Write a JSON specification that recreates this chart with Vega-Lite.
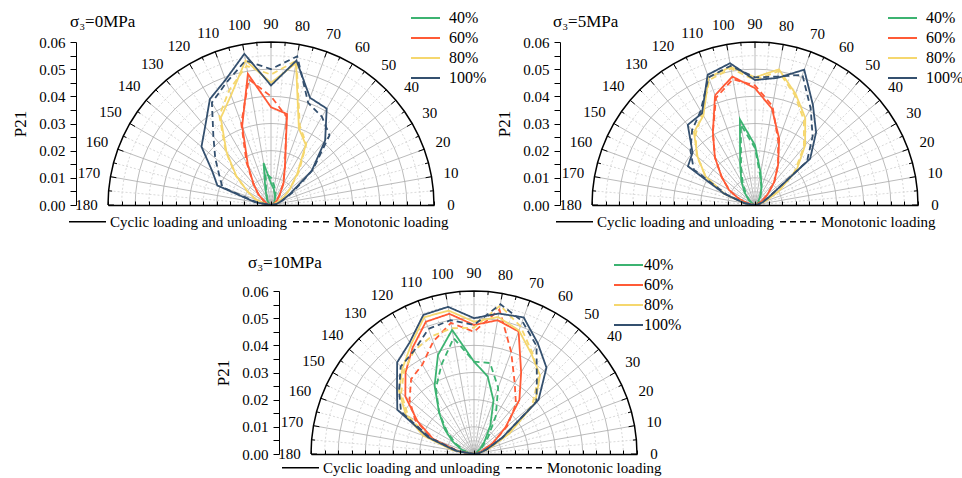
{
"$schema":"https://vega.github.io/schema/vega-lite/v6.json",
"padding":{"left":11,"top":8,"right":0,"bottom":0},
"background":"white",
"config":{"view":{"stroke":null},"font":"Liberation Serif"},
"datasets":{
"gmin":[{"r":0.005,"ang":[0,5,10,15,20,25,30,35,40,45,50,55,60,65,70,75,80,85,90,95,100,105,110,115,120,125,130,135,140,145,150,155,160,165,170,175,180]},{"r":0.015,"ang":[0,5,10,15,20,25,30,35,40,45,50,55,60,65,70,75,80,85,90,95,100,105,110,115,120,125,130,135,140,145,150,155,160,165,170,175,180]},{"r":0.025,"ang":[0,5,10,15,20,25,30,35,40,45,50,55,60,65,70,75,80,85,90,95,100,105,110,115,120,125,130,135,140,145,150,155,160,165,170,175,180]},{"r":0.035,"ang":[0,5,10,15,20,25,30,35,40,45,50,55,60,65,70,75,80,85,90,95,100,105,110,115,120,125,130,135,140,145,150,155,160,165,170,175,180]},{"r":0.045,"ang":[0,5,10,15,20,25,30,35,40,45,50,55,60,65,70,75,80,85,90,95,100,105,110,115,120,125,130,135,140,145,150,155,160,165,170,175,180]},{"r":0.055,"ang":[0,5,10,15,20,25,30,35,40,45,50,55,60,65,70,75,80,85,90,95,100,105,110,115,120,125,130,135,140,145,150,155,160,165,170,175,180]}],
"gmaj":[{"r":0.01,"ang":[0,5,10,15,20,25,30,35,40,45,50,55,60,65,70,75,80,85,90,95,100,105,110,115,120,125,130,135,140,145,150,155,160,165,170,175,180]},{"r":0.02,"ang":[0,5,10,15,20,25,30,35,40,45,50,55,60,65,70,75,80,85,90,95,100,105,110,115,120,125,130,135,140,145,150,155,160,165,170,175,180]},{"r":0.03,"ang":[0,5,10,15,20,25,30,35,40,45,50,55,60,65,70,75,80,85,90,95,100,105,110,115,120,125,130,135,140,145,150,155,160,165,170,175,180]},{"r":0.04,"ang":[0,5,10,15,20,25,30,35,40,45,50,55,60,65,70,75,80,85,90,95,100,105,110,115,120,125,130,135,140,145,150,155,160,165,170,175,180]},{"r":0.05,"ang":[0,5,10,15,20,25,30,35,40,45,50,55,60,65,70,75,80,85,90,95,100,105,110,115,120,125,130,135,140,145,150,155,160,165,170,175,180]}],
"gout":[{"r":0.06,"ang":[0,5,10,15,20,25,30,35,40,45,50,55,60,65,70,75,80,85,90,95,100,105,110,115,120,125,130,135,140,145,150,155,160,165,170,175,180]}],
"amin":[{"a":5},{"a":15},{"a":25},{"a":35},{"a":45},{"a":55},{"a":65},{"a":75},{"a":85},{"a":95},{"a":105},{"a":115},{"a":125},{"a":135},{"a":145},{"a":155},{"a":165},{"a":175}],
"amaj":[{"a":10},{"a":20},{"a":30},{"a":40},{"a":50},{"a":60},{"a":70},{"a":80},{"a":90},{"a":100},{"a":110},{"a":120},{"a":130},{"a":140},{"a":150},{"a":160},{"a":170}],
"alab":[{"a":0},{"a":10},{"a":20},{"a":30},{"a":40},{"a":50},{"a":60},{"a":70},{"a":80},{"a":90},{"a":100},{"a":110},{"a":120},{"a":130},{"a":140},{"a":150},{"a":160},{"a":170},{"a":180}],
"lines":[
{"p":"0","l":"40%","t":"C","a":0,"v":0},{"p":"0","l":"40%","t":"C","a":10,"v":0.0005},{"p":"0","l":"40%","t":"C","a":20,"v":0.001},{"p":"0","l":"40%","t":"C","a":30,"v":0.001},{"p":"0","l":"40%","t":"C","a":40,"v":0.002},{"p":"0","l":"40%","t":"C","a":50,"v":0.002},{"p":"0","l":"40%","t":"C","a":60,"v":0.003},{"p":"0","l":"40%","t":"C","a":70,"v":0.004},{"p":"0","l":"40%","t":"C","a":80,"v":0.006},{"p":"0","l":"40%","t":"C","a":90,"v":0.008},{"p":"0","l":"40%","t":"C","a":100,"v":0.0157},{"p":"0","l":"40%","t":"C","a":110,"v":0.006},{"p":"0","l":"40%","t":"C","a":120,"v":0.003},{"p":"0","l":"40%","t":"C","a":130,"v":0.002},{"p":"0","l":"40%","t":"C","a":140,"v":0.001},{"p":"0","l":"40%","t":"C","a":150,"v":0.001},{"p":"0","l":"40%","t":"C","a":160,"v":0.0005},{"p":"0","l":"40%","t":"C","a":170,"v":0.0005},{"p":"0","l":"40%","t":"C","a":180,"v":0},
{"p":"0","l":"40%","t":"M","a":0,"v":0},{"p":"0","l":"40%","t":"M","a":10,"v":0.0005},{"p":"0","l":"40%","t":"M","a":20,"v":0.001},{"p":"0","l":"40%","t":"M","a":30,"v":0.001},{"p":"0","l":"40%","t":"M","a":40,"v":0.002},{"p":"0","l":"40%","t":"M","a":50,"v":0.002},{"p":"0","l":"40%","t":"M","a":60,"v":0.003},{"p":"0","l":"40%","t":"M","a":70,"v":0.005},{"p":"0","l":"40%","t":"M","a":80,"v":0.007},{"p":"0","l":"40%","t":"M","a":90,"v":0.010},{"p":"0","l":"40%","t":"M","a":100,"v":0.012},{"p":"0","l":"40%","t":"M","a":110,"v":0.005},{"p":"0","l":"40%","t":"M","a":120,"v":0.003},{"p":"0","l":"40%","t":"M","a":130,"v":0.002},{"p":"0","l":"40%","t":"M","a":140,"v":0.001},{"p":"0","l":"40%","t":"M","a":150,"v":0.001},{"p":"0","l":"40%","t":"M","a":160,"v":0.0005},{"p":"0","l":"40%","t":"M","a":170,"v":0.0005},{"p":"0","l":"40%","t":"M","a":180,"v":0},
{"p":"0","l":"60%","t":"C","a":0,"v":0},{"p":"0","l":"60%","t":"C","a":10,"v":0.0005},{"p":"0","l":"60%","t":"C","a":20,"v":0.001},{"p":"0","l":"60%","t":"C","a":30,"v":0.002},{"p":"0","l":"60%","t":"C","a":40,"v":0.003},{"p":"0","l":"60%","t":"C","a":50,"v":0.005},{"p":"0","l":"60%","t":"C","a":60,"v":0.0092},{"p":"0","l":"60%","t":"C","a":70,"v":0.015},{"p":"0","l":"60%","t":"C","a":80,"v":0.034},{"p":"0","l":"60%","t":"C","a":90,"v":0.036},{"p":"0","l":"60%","t":"C","a":100,"v":0.049},{"p":"0","l":"60%","t":"C","a":110,"v":0.031},{"p":"0","l":"60%","t":"C","a":120,"v":0.017},{"p":"0","l":"60%","t":"C","a":130,"v":0.010},{"p":"0","l":"60%","t":"C","a":140,"v":0.006},{"p":"0","l":"60%","t":"C","a":150,"v":0.003},{"p":"0","l":"60%","t":"C","a":160,"v":0.002},{"p":"0","l":"60%","t":"C","a":170,"v":0.001},{"p":"0","l":"60%","t":"C","a":180,"v":0},
{"p":"0","l":"60%","t":"M","a":0,"v":0},{"p":"0","l":"60%","t":"M","a":10,"v":0.0005},{"p":"0","l":"60%","t":"M","a":20,"v":0.001},{"p":"0","l":"60%","t":"M","a":30,"v":0.002},{"p":"0","l":"60%","t":"M","a":40,"v":0.003},{"p":"0","l":"60%","t":"M","a":50,"v":0.005},{"p":"0","l":"60%","t":"M","a":60,"v":0.009},{"p":"0","l":"60%","t":"M","a":70,"v":0.015},{"p":"0","l":"60%","t":"M","a":80,"v":0.033},{"p":"0","l":"60%","t":"M","a":90,"v":0.040},{"p":"0","l":"60%","t":"M","a":100,"v":0.047},{"p":"0","l":"60%","t":"M","a":110,"v":0.032},{"p":"0","l":"60%","t":"M","a":120,"v":0.018},{"p":"0","l":"60%","t":"M","a":130,"v":0.010},{"p":"0","l":"60%","t":"M","a":140,"v":0.006},{"p":"0","l":"60%","t":"M","a":150,"v":0.003},{"p":"0","l":"60%","t":"M","a":160,"v":0.002},{"p":"0","l":"60%","t":"M","a":170,"v":0.001},{"p":"0","l":"60%","t":"M","a":180,"v":0},
{"p":"0","l":"80%","t":"C","a":0,"v":0},{"p":"0","l":"80%","t":"C","a":10,"v":0.001},{"p":"0","l":"80%","t":"C","a":20,"v":0.002},{"p":"0","l":"80%","t":"C","a":30,"v":0.005},{"p":"0","l":"80%","t":"C","a":40,"v":0.009},{"p":"0","l":"80%","t":"C","a":50,"v":0.015},{"p":"0","l":"80%","t":"C","a":60,"v":0.0256},{"p":"0","l":"80%","t":"C","a":70,"v":0.030},{"p":"0","l":"80%","t":"C","a":80,"v":0.053},{"p":"0","l":"80%","t":"C","a":90,"v":0.045},{"p":"0","l":"80%","t":"C","a":100,"v":0.054},{"p":"0","l":"80%","t":"C","a":110,"v":0.043},{"p":"0","l":"80%","t":"C","a":120,"v":0.037},{"p":"0","l":"80%","t":"C","a":130,"v":0.0255},{"p":"0","l":"80%","t":"C","a":140,"v":0.0167},{"p":"0","l":"80%","t":"C","a":150,"v":0.010},{"p":"0","l":"80%","t":"C","a":160,"v":0.006},{"p":"0","l":"80%","t":"C","a":170,"v":0.002},{"p":"0","l":"80%","t":"C","a":180,"v":0},
{"p":"0","l":"80%","t":"M","a":0,"v":0},{"p":"0","l":"80%","t":"M","a":10,"v":0.001},{"p":"0","l":"80%","t":"M","a":20,"v":0.002},{"p":"0","l":"80%","t":"M","a":30,"v":0.005},{"p":"0","l":"80%","t":"M","a":40,"v":0.009},{"p":"0","l":"80%","t":"M","a":50,"v":0.016},{"p":"0","l":"80%","t":"M","a":60,"v":0.026},{"p":"0","l":"80%","t":"M","a":70,"v":0.031},{"p":"0","l":"80%","t":"M","a":80,"v":0.054},{"p":"0","l":"80%","t":"M","a":90,"v":0.048},{"p":"0","l":"80%","t":"M","a":100,"v":0.052},{"p":"0","l":"80%","t":"M","a":110,"v":0.045},{"p":"0","l":"80%","t":"M","a":120,"v":0.038},{"p":"0","l":"80%","t":"M","a":130,"v":0.026},{"p":"0","l":"80%","t":"M","a":140,"v":0.017},{"p":"0","l":"80%","t":"M","a":150,"v":0.010},{"p":"0","l":"80%","t":"M","a":160,"v":0.006},{"p":"0","l":"80%","t":"M","a":170,"v":0.002},{"p":"0","l":"80%","t":"M","a":180,"v":0},
{"p":"0","l":"100%","t":"C","a":0,"v":0},{"p":"0","l":"100%","t":"C","a":10,"v":0.002},{"p":"0","l":"100%","t":"C","a":20,"v":0.004},{"p":"0","l":"100%","t":"C","a":30,"v":0.008},{"p":"0","l":"100%","t":"C","a":40,"v":0.0196},{"p":"0","l":"100%","t":"C","a":50,"v":0.031},{"p":"0","l":"100%","t":"C","a":60,"v":0.041},{"p":"0","l":"100%","t":"C","a":70,"v":0.042},{"p":"0","l":"100%","t":"C","a":80,"v":0.054},{"p":"0","l":"100%","t":"C","a":90,"v":0.044},{"p":"0","l":"100%","t":"C","a":100,"v":0.0565},{"p":"0","l":"100%","t":"C","a":110,"v":0.049},{"p":"0","l":"100%","t":"C","a":120,"v":0.045},{"p":"0","l":"100%","t":"C","a":130,"v":0.0377},{"p":"0","l":"100%","t":"C","a":140,"v":0.0334},{"p":"0","l":"100%","t":"C","a":150,"v":0.025},{"p":"0","l":"100%","t":"C","a":160,"v":0.021},{"p":"0","l":"100%","t":"C","a":170,"v":0.006},{"p":"0","l":"100%","t":"C","a":180,"v":0},
{"p":"0","l":"100%","t":"M","a":0,"v":0},{"p":"0","l":"100%","t":"M","a":10,"v":0.002},{"p":"0","l":"100%","t":"M","a":20,"v":0.004},{"p":"0","l":"100%","t":"M","a":30,"v":0.009},{"p":"0","l":"100%","t":"M","a":40,"v":0.020},{"p":"0","l":"100%","t":"M","a":50,"v":0.0335},{"p":"0","l":"100%","t":"M","a":60,"v":0.0375},{"p":"0","l":"100%","t":"M","a":70,"v":0.040},{"p":"0","l":"100%","t":"M","a":80,"v":0.0556},{"p":"0","l":"100%","t":"M","a":90,"v":0.050},{"p":"0","l":"100%","t":"M","a":100,"v":0.054},{"p":"0","l":"100%","t":"M","a":110,"v":0.048},{"p":"0","l":"100%","t":"M","a":120,"v":0.0435},{"p":"0","l":"100%","t":"M","a":130,"v":0.033},{"p":"0","l":"100%","t":"M","a":140,"v":0.0268},{"p":"0","l":"100%","t":"M","a":150,"v":0.022},{"p":"0","l":"100%","t":"M","a":160,"v":0.019},{"p":"0","l":"100%","t":"M","a":170,"v":0.005},{"p":"0","l":"100%","t":"M","a":180,"v":0},
{"p":"5","l":"40%","t":"C","a":0,"v":0},{"p":"5","l":"40%","t":"C","a":10,"v":0.0005},{"p":"5","l":"40%","t":"C","a":20,"v":0.001},{"p":"5","l":"40%","t":"C","a":30,"v":0.001},{"p":"5","l":"40%","t":"C","a":40,"v":0.002},{"p":"5","l":"40%","t":"C","a":50,"v":0.002},{"p":"5","l":"40%","t":"C","a":60,"v":0.004},{"p":"5","l":"40%","t":"C","a":70,"v":0.007},{"p":"5","l":"40%","t":"C","a":80,"v":0.012},{"p":"5","l":"40%","t":"C","a":90,"v":0.022},{"p":"5","l":"40%","t":"C","a":100,"v":0.032},{"p":"5","l":"40%","t":"C","a":110,"v":0.016},{"p":"5","l":"40%","t":"C","a":120,"v":0.010},{"p":"5","l":"40%","t":"C","a":130,"v":0.006},{"p":"5","l":"40%","t":"C","a":140,"v":0.003},{"p":"5","l":"40%","t":"C","a":150,"v":0.001},{"p":"5","l":"40%","t":"C","a":160,"v":0.001},{"p":"5","l":"40%","t":"C","a":170,"v":0.0005},{"p":"5","l":"40%","t":"C","a":180,"v":0},
{"p":"5","l":"40%","t":"M","a":0,"v":0},{"p":"5","l":"40%","t":"M","a":10,"v":0.0005},{"p":"5","l":"40%","t":"M","a":20,"v":0.001},{"p":"5","l":"40%","t":"M","a":30,"v":0.001},{"p":"5","l":"40%","t":"M","a":40,"v":0.002},{"p":"5","l":"40%","t":"M","a":50,"v":0.003},{"p":"5","l":"40%","t":"M","a":60,"v":0.004},{"p":"5","l":"40%","t":"M","a":70,"v":0.007},{"p":"5","l":"40%","t":"M","a":80,"v":0.011},{"p":"5","l":"40%","t":"M","a":90,"v":0.021},{"p":"5","l":"40%","t":"M","a":100,"v":0.030},{"p":"5","l":"40%","t":"M","a":110,"v":0.015},{"p":"5","l":"40%","t":"M","a":120,"v":0.009},{"p":"5","l":"40%","t":"M","a":130,"v":0.005},{"p":"5","l":"40%","t":"M","a":140,"v":0.003},{"p":"5","l":"40%","t":"M","a":150,"v":0.001},{"p":"5","l":"40%","t":"M","a":160,"v":0.001},{"p":"5","l":"40%","t":"M","a":170,"v":0.0005},{"p":"5","l":"40%","t":"M","a":180,"v":0},
{"p":"5","l":"60%","t":"C","a":0,"v":0},{"p":"5","l":"60%","t":"C","a":10,"v":0.0005},{"p":"5","l":"60%","t":"C","a":20,"v":0.001},{"p":"5","l":"60%","t":"C","a":30,"v":0.003},{"p":"5","l":"60%","t":"C","a":40,"v":0.006},{"p":"5","l":"60%","t":"C","a":50,"v":0.011},{"p":"5","l":"60%","t":"C","a":60,"v":0.017},{"p":"5","l":"60%","t":"C","a":70,"v":0.026},{"p":"5","l":"60%","t":"C","a":80,"v":0.036},{"p":"5","l":"60%","t":"C","a":90,"v":0.043},{"p":"5","l":"60%","t":"C","a":100,"v":0.048},{"p":"5","l":"60%","t":"C","a":110,"v":0.043},{"p":"5","l":"60%","t":"C","a":120,"v":0.031},{"p":"5","l":"60%","t":"C","a":130,"v":0.023},{"p":"5","l":"60%","t":"C","a":140,"v":0.016},{"p":"5","l":"60%","t":"C","a":150,"v":0.011},{"p":"5","l":"60%","t":"C","a":160,"v":0.006},{"p":"5","l":"60%","t":"C","a":170,"v":0.002},{"p":"5","l":"60%","t":"C","a":180,"v":0},
{"p":"5","l":"60%","t":"M","a":0,"v":0},{"p":"5","l":"60%","t":"M","a":10,"v":0.0005},{"p":"5","l":"60%","t":"M","a":20,"v":0.001},{"p":"5","l":"60%","t":"M","a":30,"v":0.003},{"p":"5","l":"60%","t":"M","a":40,"v":0.006},{"p":"5","l":"60%","t":"M","a":50,"v":0.011},{"p":"5","l":"60%","t":"M","a":60,"v":0.017},{"p":"5","l":"60%","t":"M","a":70,"v":0.025},{"p":"5","l":"60%","t":"M","a":80,"v":0.037},{"p":"5","l":"60%","t":"M","a":90,"v":0.044},{"p":"5","l":"60%","t":"M","a":100,"v":0.047},{"p":"5","l":"60%","t":"M","a":110,"v":0.042},{"p":"5","l":"60%","t":"M","a":120,"v":0.031},{"p":"5","l":"60%","t":"M","a":130,"v":0.023},{"p":"5","l":"60%","t":"M","a":140,"v":0.016},{"p":"5","l":"60%","t":"M","a":150,"v":0.011},{"p":"5","l":"60%","t":"M","a":160,"v":0.006},{"p":"5","l":"60%","t":"M","a":170,"v":0.002},{"p":"5","l":"60%","t":"M","a":180,"v":0},
{"p":"5","l":"80%","t":"C","a":0,"v":0},{"p":"5","l":"80%","t":"C","a":10,"v":0.001},{"p":"5","l":"80%","t":"C","a":20,"v":0.004},{"p":"5","l":"80%","t":"C","a":30,"v":0.010},{"p":"5","l":"80%","t":"C","a":40,"v":0.020},{"p":"5","l":"80%","t":"C","a":50,"v":0.0287},{"p":"5","l":"80%","t":"C","a":60,"v":0.037},{"p":"5","l":"80%","t":"C","a":70,"v":0.0436},{"p":"5","l":"80%","t":"C","a":80,"v":0.0507},{"p":"5","l":"80%","t":"C","a":90,"v":0.047},{"p":"5","l":"80%","t":"C","a":100,"v":0.0516},{"p":"5","l":"80%","t":"C","a":110,"v":0.050},{"p":"5","l":"80%","t":"C","a":120,"v":0.038},{"p":"5","l":"80%","t":"C","a":130,"v":0.035},{"p":"5","l":"80%","t":"C","a":140,"v":0.0276},{"p":"5","l":"80%","t":"C","a":150,"v":0.021},{"p":"5","l":"80%","t":"C","a":160,"v":0.012},{"p":"5","l":"80%","t":"C","a":170,"v":0.004},{"p":"5","l":"80%","t":"C","a":180,"v":0},
{"p":"5","l":"80%","t":"M","a":0,"v":0},{"p":"5","l":"80%","t":"M","a":10,"v":0.001},{"p":"5","l":"80%","t":"M","a":20,"v":0.004},{"p":"5","l":"80%","t":"M","a":30,"v":0.010},{"p":"5","l":"80%","t":"M","a":40,"v":0.019},{"p":"5","l":"80%","t":"M","a":50,"v":0.028},{"p":"5","l":"80%","t":"M","a":60,"v":0.036},{"p":"5","l":"80%","t":"M","a":70,"v":0.043},{"p":"5","l":"80%","t":"M","a":80,"v":0.050},{"p":"5","l":"80%","t":"M","a":90,"v":0.046},{"p":"5","l":"80%","t":"M","a":100,"v":0.051},{"p":"5","l":"80%","t":"M","a":110,"v":0.049},{"p":"5","l":"80%","t":"M","a":120,"v":0.039},{"p":"5","l":"80%","t":"M","a":130,"v":0.034},{"p":"5","l":"80%","t":"M","a":140,"v":0.028},{"p":"5","l":"80%","t":"M","a":150,"v":0.021},{"p":"5","l":"80%","t":"M","a":160,"v":0.012},{"p":"5","l":"80%","t":"M","a":170,"v":0.004},{"p":"5","l":"80%","t":"M","a":180,"v":0},
{"p":"5","l":"100%","t":"C","a":0,"v":0},{"p":"5","l":"100%","t":"C","a":10,"v":0.001},{"p":"5","l":"100%","t":"C","a":20,"v":0.003},{"p":"5","l":"100%","t":"C","a":30,"v":0.006},{"p":"5","l":"100%","t":"C","a":40,"v":0.0265},{"p":"5","l":"100%","t":"C","a":50,"v":0.035},{"p":"5","l":"100%","t":"C","a":60,"v":0.0426},{"p":"5","l":"100%","t":"C","a":70,"v":0.053},{"p":"5","l":"100%","t":"C","a":80,"v":0.0475},{"p":"5","l":"100%","t":"C","a":90,"v":0.046},{"p":"5","l":"100%","t":"C","a":100,"v":0.053},{"p":"5","l":"100%","t":"C","a":110,"v":0.051},{"p":"5","l":"100%","t":"C","a":120,"v":0.039},{"p":"5","l":"100%","t":"C","a":130,"v":0.0385},{"p":"5","l":"100%","t":"C","a":140,"v":0.030},{"p":"5","l":"100%","t":"C","a":150,"v":0.0285},{"p":"5","l":"100%","t":"C","a":160,"v":0.012},{"p":"5","l":"100%","t":"C","a":170,"v":0.004},{"p":"5","l":"100%","t":"C","a":180,"v":0},
{"p":"5","l":"100%","t":"M","a":0,"v":0},{"p":"5","l":"100%","t":"M","a":10,"v":0.001},{"p":"5","l":"100%","t":"M","a":20,"v":0.003},{"p":"5","l":"100%","t":"M","a":30,"v":0.006},{"p":"5","l":"100%","t":"M","a":40,"v":0.025},{"p":"5","l":"100%","t":"M","a":50,"v":0.033},{"p":"5","l":"100%","t":"M","a":60,"v":0.041},{"p":"5","l":"100%","t":"M","a":70,"v":0.051},{"p":"5","l":"100%","t":"M","a":80,"v":0.048},{"p":"5","l":"100%","t":"M","a":90,"v":0.047},{"p":"5","l":"100%","t":"M","a":100,"v":0.052},{"p":"5","l":"100%","t":"M","a":110,"v":0.050},{"p":"5","l":"100%","t":"M","a":120,"v":0.040},{"p":"5","l":"100%","t":"M","a":130,"v":0.036},{"p":"5","l":"100%","t":"M","a":140,"v":0.031},{"p":"5","l":"100%","t":"M","a":150,"v":0.026},{"p":"5","l":"100%","t":"M","a":160,"v":0.011},{"p":"5","l":"100%","t":"M","a":170,"v":0.004},{"p":"5","l":"100%","t":"M","a":180,"v":0},
{"p":"10","l":"40%","t":"C","a":0,"v":0},{"p":"10","l":"40%","t":"C","a":10,"v":0.0005},{"p":"10","l":"40%","t":"C","a":20,"v":0.001},{"p":"10","l":"40%","t":"C","a":30,"v":0.001},{"p":"10","l":"40%","t":"C","a":40,"v":0.003},{"p":"10","l":"40%","t":"C","a":50,"v":0.006},{"p":"10","l":"40%","t":"C","a":60,"v":0.012},{"p":"10","l":"40%","t":"C","a":70,"v":0.021},{"p":"10","l":"40%","t":"C","a":80,"v":0.029},{"p":"10","l":"40%","t":"C","a":90,"v":0.034},{"p":"10","l":"40%","t":"C","a":100,"v":0.0464},{"p":"10","l":"40%","t":"C","a":110,"v":0.0388},{"p":"10","l":"40%","t":"C","a":120,"v":0.029},{"p":"10","l":"40%","t":"C","a":130,"v":0.020},{"p":"10","l":"40%","t":"C","a":140,"v":0.014},{"p":"10","l":"40%","t":"C","a":150,"v":0.009},{"p":"10","l":"40%","t":"C","a":160,"v":0.005},{"p":"10","l":"40%","t":"C","a":170,"v":0.002},{"p":"10","l":"40%","t":"C","a":180,"v":0},
{"p":"10","l":"40%","t":"M","a":0,"v":0},{"p":"10","l":"40%","t":"M","a":10,"v":0.0005},{"p":"10","l":"40%","t":"M","a":20,"v":0.001},{"p":"10","l":"40%","t":"M","a":30,"v":0.002},{"p":"10","l":"40%","t":"M","a":40,"v":0.004},{"p":"10","l":"40%","t":"M","a":50,"v":0.008},{"p":"10","l":"40%","t":"M","a":60,"v":0.016},{"p":"10","l":"40%","t":"M","a":70,"v":0.026},{"p":"10","l":"40%","t":"M","a":80,"v":0.034},{"p":"10","l":"40%","t":"M","a":90,"v":0.034},{"p":"10","l":"40%","t":"M","a":100,"v":0.0433},{"p":"10","l":"40%","t":"M","a":110,"v":0.035},{"p":"10","l":"40%","t":"M","a":120,"v":0.028},{"p":"10","l":"40%","t":"M","a":130,"v":0.020},{"p":"10","l":"40%","t":"M","a":140,"v":0.013},{"p":"10","l":"40%","t":"M","a":150,"v":0.008},{"p":"10","l":"40%","t":"M","a":160,"v":0.004},{"p":"10","l":"40%","t":"M","a":170,"v":0.002},{"p":"10","l":"40%","t":"M","a":180,"v":0},
{"p":"10","l":"60%","t":"C","a":0,"v":0},{"p":"10","l":"60%","t":"C","a":10,"v":0.001},{"p":"10","l":"60%","t":"C","a":20,"v":0.003},{"p":"10","l":"60%","t":"C","a":30,"v":0.008},{"p":"10","l":"60%","t":"C","a":40,"v":0.015},{"p":"10","l":"60%","t":"C","a":50,"v":0.026},{"p":"10","l":"60%","t":"C","a":60,"v":0.0347},{"p":"10","l":"60%","t":"C","a":70,"v":0.048},{"p":"10","l":"60%","t":"C","a":80,"v":0.050},{"p":"10","l":"60%","t":"C","a":90,"v":0.0475},{"p":"10","l":"60%","t":"C","a":100,"v":0.0524},{"p":"10","l":"60%","t":"C","a":110,"v":0.0518},{"p":"10","l":"60%","t":"C","a":120,"v":0.0452},{"p":"10","l":"60%","t":"C","a":130,"v":0.0392},{"p":"10","l":"60%","t":"C","a":140,"v":0.033},{"p":"10","l":"60%","t":"C","a":150,"v":0.024},{"p":"10","l":"60%","t":"C","a":160,"v":0.016},{"p":"10","l":"60%","t":"C","a":170,"v":0.006},{"p":"10","l":"60%","t":"C","a":180,"v":0},
{"p":"10","l":"60%","t":"M","a":0,"v":0},{"p":"10","l":"60%","t":"M","a":10,"v":0.001},{"p":"10","l":"60%","t":"M","a":20,"v":0.003},{"p":"10","l":"60%","t":"M","a":30,"v":0.008},{"p":"10","l":"60%","t":"M","a":40,"v":0.016},{"p":"10","l":"60%","t":"M","a":50,"v":0.024},{"p":"10","l":"60%","t":"M","a":60,"v":0.030},{"p":"10","l":"60%","t":"M","a":70,"v":0.040},{"p":"10","l":"60%","t":"M","a":80,"v":0.054},{"p":"10","l":"60%","t":"M","a":90,"v":0.045},{"p":"10","l":"60%","t":"M","a":100,"v":0.049},{"p":"10","l":"60%","t":"M","a":110,"v":0.044},{"p":"10","l":"60%","t":"M","a":120,"v":0.038},{"p":"10","l":"60%","t":"M","a":130,"v":0.036},{"p":"10","l":"60%","t":"M","a":140,"v":0.031},{"p":"10","l":"60%","t":"M","a":150,"v":0.025},{"p":"10","l":"60%","t":"M","a":160,"v":0.016},{"p":"10","l":"60%","t":"M","a":170,"v":0.006},{"p":"10","l":"60%","t":"M","a":180,"v":0},
{"p":"10","l":"80%","t":"C","a":0,"v":0},{"p":"10","l":"80%","t":"C","a":10,"v":0.002},{"p":"10","l":"80%","t":"C","a":20,"v":0.006},{"p":"10","l":"80%","t":"C","a":30,"v":0.015},{"p":"10","l":"80%","t":"C","a":40,"v":0.0294},{"p":"10","l":"80%","t":"C","a":50,"v":0.0378},{"p":"10","l":"80%","t":"C","a":60,"v":0.0424},{"p":"10","l":"80%","t":"C","a":70,"v":0.0484},{"p":"10","l":"80%","t":"C","a":80,"v":0.0512},{"p":"10","l":"80%","t":"C","a":90,"v":0.0487},{"p":"10","l":"80%","t":"C","a":100,"v":0.0536},{"p":"10","l":"80%","t":"C","a":110,"v":0.0536},{"p":"10","l":"80%","t":"C","a":120,"v":0.0464},{"p":"10","l":"80%","t":"C","a":130,"v":0.041},{"p":"10","l":"80%","t":"C","a":140,"v":0.036},{"p":"10","l":"80%","t":"C","a":150,"v":0.029},{"p":"10","l":"80%","t":"C","a":160,"v":0.020},{"p":"10","l":"80%","t":"C","a":170,"v":0.008},{"p":"10","l":"80%","t":"C","a":180,"v":0},
{"p":"10","l":"80%","t":"M","a":0,"v":0},{"p":"10","l":"80%","t":"M","a":10,"v":0.002},{"p":"10","l":"80%","t":"M","a":20,"v":0.006},{"p":"10","l":"80%","t":"M","a":30,"v":0.014},{"p":"10","l":"80%","t":"M","a":40,"v":0.028},{"p":"10","l":"80%","t":"M","a":50,"v":0.037},{"p":"10","l":"80%","t":"M","a":60,"v":0.043},{"p":"10","l":"80%","t":"M","a":70,"v":0.050},{"p":"10","l":"80%","t":"M","a":80,"v":0.0555},{"p":"10","l":"80%","t":"M","a":90,"v":0.0465},{"p":"10","l":"80%","t":"M","a":100,"v":0.047},{"p":"10","l":"80%","t":"M","a":110,"v":0.046},{"p":"10","l":"80%","t":"M","a":120,"v":0.044},{"p":"10","l":"80%","t":"M","a":130,"v":0.040},{"p":"10","l":"80%","t":"M","a":140,"v":0.035},{"p":"10","l":"80%","t":"M","a":150,"v":0.028},{"p":"10","l":"80%","t":"M","a":160,"v":0.018},{"p":"10","l":"80%","t":"M","a":170,"v":0.007},{"p":"10","l":"80%","t":"M","a":180,"v":0},
{"p":"10","l":"100%","t":"C","a":0,"v":0},{"p":"10","l":"100%","t":"C","a":10,"v":0.002},{"p":"10","l":"100%","t":"C","a":20,"v":0.005},{"p":"10","l":"100%","t":"C","a":30,"v":0.012},{"p":"10","l":"100%","t":"C","a":40,"v":0.031},{"p":"10","l":"100%","t":"C","a":50,"v":0.0415},{"p":"10","l":"100%","t":"C","a":60,"v":0.047},{"p":"10","l":"100%","t":"C","a":70,"v":0.0535},{"p":"10","l":"100%","t":"C","a":80,"v":0.0525},{"p":"10","l":"100%","t":"C","a":90,"v":0.050},{"p":"10","l":"100%","t":"C","a":100,"v":0.055},{"p":"10","l":"100%","t":"C","a":110,"v":0.0545},{"p":"10","l":"100%","t":"C","a":120,"v":0.0474},{"p":"10","l":"100%","t":"C","a":130,"v":0.044},{"p":"10","l":"100%","t":"C","a":140,"v":0.037},{"p":"10","l":"100%","t":"C","a":150,"v":0.0326},{"p":"10","l":"100%","t":"C","a":160,"v":0.018},{"p":"10","l":"100%","t":"C","a":170,"v":0.007},{"p":"10","l":"100%","t":"C","a":180,"v":0},
{"p":"10","l":"100%","t":"M","a":0,"v":0},{"p":"10","l":"100%","t":"M","a":10,"v":0.002},{"p":"10","l":"100%","t":"M","a":20,"v":0.005},{"p":"10","l":"100%","t":"M","a":30,"v":0.012},{"p":"10","l":"100%","t":"M","a":40,"v":0.030},{"p":"10","l":"100%","t":"M","a":50,"v":0.036},{"p":"10","l":"100%","t":"M","a":60,"v":0.046},{"p":"10","l":"100%","t":"M","a":70,"v":0.052},{"p":"10","l":"100%","t":"M","a":80,"v":0.056},{"p":"10","l":"100%","t":"M","a":90,"v":0.0475},{"p":"10","l":"100%","t":"M","a":100,"v":0.050},{"p":"10","l":"100%","t":"M","a":110,"v":0.049},{"p":"10","l":"100%","t":"M","a":120,"v":0.044},{"p":"10","l":"100%","t":"M","a":130,"v":0.042},{"p":"10","l":"100%","t":"M","a":140,"v":0.036},{"p":"10","l":"100%","t":"M","a":150,"v":0.031},{"p":"10","l":"100%","t":"M","a":160,"v":0.017},{"p":"10","l":"100%","t":"M","a":170,"v":0.006},{"p":"10","l":"100%","t":"M","a":180,"v":0}
]},
"spacing":484,
"bounds":"flush",
"resolve":{"scale":{"x":"independent","y":"independent","color":"independent","strokeDash":"independent"},"legend":{"color":"independent","strokeDash":"independent"}},
"hconcat":[
{"vconcat":[
{"width":326,"height":163,
"title":{"text":"σ₃=0MPa","anchor":"start","frame":"group","dx":-38,"offset":-23,"font":"Liberation Serif","fontSize":17,"fontWeight":"normal","color":"black"},
"encoding":{
"x":{"field":"x","type":"quantitative","scale":{"domain":[-0.06,0.06],"nice":false,"zero":false},"axis":{"orient":"top","offset":-163,"values":[-0.06,-0.055,-0.05,-0.045,-0.04,-0.035,-0.03,-0.025,-0.02,-0.015,-0.01,-0.005,0,0.005,0.01,0.015,0.02,0.025,0.03,0.035,0.04,0.045,0.05,0.055,0.06],"labels":false,"title":null,"grid":false,"domainColor":"black","domainWidth":1.5,"tickColor":"black","tickSize":4,"zindex":1}},
"y":{"field":"y","type":"quantitative","scale":{"domain":[0,0.06],"nice":false},"axis":{"orient":"left","offset":32,"values":[0,0.005,0.01,0.015,0.02,0.025,0.03,0.035,0.04,0.045,0.05,0.055,0.06],"labelExpr":"round(datum.value*1000)%10==0 ? format(datum.value,'.2f') : ''","tickSize":6,"grid":false,"title":"P21","titleFont":"Liberation Serif","titleFontSize":17,"titleFontWeight":"normal","titleColor":"black","titlePadding":9,"labelFont":"Liberation Serif","labelFontSize":15,"labelColor":"black","labelPadding":5,"domainColor":"black","tickColor":"black","labelOverlap":false}}},
"layer":[
{"data":{"name":"gmin"},"transform":[{"flatten":["ang"]},{"calculate":"datum.r*cos(datum.ang*PI/180)","as":"x"},{"calculate":"datum.r*sin(datum.ang*PI/180)","as":"y"}],"mark":{"type":"line","stroke":"#cfcfcf","strokeWidth":0.8,"strokeDash":[2,2]},"encoding":{"detail":{"field":"r","type":"nominal"},"order":{"field":"ang","type":"quantitative"}}},
{"data":{"name":"gmaj"},"transform":[{"flatten":["ang"]},{"calculate":"datum.r*cos(datum.ang*PI/180)","as":"x"},{"calculate":"datum.r*sin(datum.ang*PI/180)","as":"y"}],"mark":{"type":"line","stroke":"#a9a9a9","strokeWidth":0.8},"encoding":{"detail":{"field":"r","type":"nominal"},"order":{"field":"ang","type":"quantitative"}}},
{"data":{"name":"amin"},"transform":[{"calculate":"0","as":"x"},{"calculate":"0","as":"y"},{"calculate":"0.06*cos(datum.a*PI/180)","as":"x2"},{"calculate":"0.06*sin(datum.a*PI/180)","as":"y2"}],"mark":{"type":"rule","stroke":"#cfcfcf","strokeWidth":0.8,"strokeDash":[2,2]},"encoding":{"x2":{"field":"x2"},"y2":{"field":"y2"}}},
{"data":{"name":"amaj"},"transform":[{"calculate":"0","as":"x"},{"calculate":"0","as":"y"},{"calculate":"0.06*cos(datum.a*PI/180)","as":"x2"},{"calculate":"0.06*sin(datum.a*PI/180)","as":"y2"}],"mark":{"type":"rule","stroke":"#a9a9a9","strokeWidth":0.8},"encoding":{"x2":{"field":"x2"},"y2":{"field":"y2"}}},
{"data":{"name":"gout"},"transform":[{"flatten":["ang"]},{"calculate":"datum.r*cos(datum.ang*PI/180)","as":"x"},{"calculate":"datum.r*sin(datum.ang*PI/180)","as":"y"}],"mark":{"type":"line","stroke":"black","strokeWidth":1.5},"encoding":{"detail":{"field":"r","type":"nominal"},"order":{"field":"ang","type":"quantitative"}}},
{"data":{"name":"alab"},"transform":[{"calculate":"0.06*cos(datum.a*PI/180)","as":"x"},{"calculate":"0.06*sin(datum.a*PI/180)","as":"y"},{"calculate":"0.0578*cos(datum.a*PI/180)","as":"x2"},{"calculate":"0.0578*sin(datum.a*PI/180)","as":"y2"}],"mark":{"type":"rule","stroke":"black","strokeWidth":1},"encoding":{"x2":{"field":"x2"},"y2":{"field":"y2"}}},
{"data":{"name":"amin"},"transform":[{"calculate":"0.06*cos(datum.a*PI/180)","as":"x"},{"calculate":"0.06*sin(datum.a*PI/180)","as":"y"},{"calculate":"0.0587*cos(datum.a*PI/180)","as":"x2"},{"calculate":"0.0587*sin(datum.a*PI/180)","as":"y2"}],"mark":{"type":"rule","stroke":"black","strokeWidth":1},"encoding":{"x2":{"field":"x2"},"y2":{"field":"y2"}}},
{"data":{"name":"alab"},"transform":[{"calculate":"0.0655+0.0008*length(toString(datum.a))*abs(cos(datum.a*PI/180))+0.0012*abs(sin(datum.a*PI/180))","as":"lr"},{"calculate":"datum.lr*cos(datum.a*PI/180)","as":"x"},{"calculate":"datum.lr*sin(datum.a*PI/180)","as":"y"}],"mark":{"type":"text","font":"Liberation Serif","fontSize":15,"align":"center","baseline":"middle","color":"black"},"encoding":{"text":{"field":"a","type":"nominal"}}},
{"data":{"name":"lines"},"transform":[{"filter":"datum.p=='0'"},{"calculate":"datum.v*cos(datum.a*PI/180)","as":"x"},{"calculate":"datum.v*sin(datum.a*PI/180)","as":"y"}],"mark":{"type":"line","strokeWidth":1.8},
"encoding":{
"color":{"field":"l","type":"nominal","scale":{"domain":["40%","60%","80%","100%"],"range":["#3cb371","#ff5a36","#f5d76e","#34506f"]},"legend":{"orient":"none","legendX":303,"legendY":-34,"title":null,"padding":0,"clipHeight":20,"symbolType":"M-1.8,0H1.8","symbolSize":400,"symbolStrokeWidth":2,"labelFont":"Liberation Serif","labelFontSize":16,"labelColor":"black","labelOffset":16,"rowPadding":0}},
"strokeDash":{"field":"t","type":"nominal","scale":{"domain":["C","M"],"range":[[1,0],[6,4]]},"legend":{"orient":"none","legendX":-40,"legendY":160,"direction":"horizontal","title":null,"padding":0,"symbolType":"stroke","symbolSize":1369,"symbolStrokeWidth":1.5,"symbolStrokeColor":"black","labelExpr":"datum.value=='C' ? 'Cyclic loading and unloading' : 'Monotonic loading'","labelFont":"Liberation Serif","labelFontSize":15,"labelColor":"black","labelOffset":3,"labelLimit":400,"columnPadding":2}},
"order":{"field":"a","type":"quantitative"}}}
]},
{"width":529,"height":163,
"title":{"text":"σ₃=10MPa","anchor":"start","frame":"group","dx":140,"offset":-17,"font":"Liberation Serif","fontSize":17,"fontWeight":"normal","color":"black"},
"encoding":{
"x":{"field":"x","type":"quantitative","scale":{"domain":[-0.06,0.06],"range":[203,529],"nice":false,"zero":false},"axis":{"orient":"top","offset":-163,"values":[-0.06,-0.055,-0.05,-0.045,-0.04,-0.035,-0.03,-0.025,-0.02,-0.015,-0.01,-0.005,0,0.005,0.01,0.015,0.02,0.025,0.03,0.035,0.04,0.045,0.05,0.055,0.06],"labels":false,"title":null,"grid":false,"domainColor":"black","domainWidth":1.5,"tickColor":"black","tickSize":4,"zindex":1}},
"y":{"field":"y","type":"quantitative","scale":{"domain":[0,0.06],"nice":false},"axis":{"orient":"left","offset":-171,"values":[0,0.005,0.01,0.015,0.02,0.025,0.03,0.035,0.04,0.045,0.05,0.055,0.06],"labelExpr":"round(datum.value*1000)%10==0 ? format(datum.value,'.2f') : ''","tickSize":6,"grid":false,"title":"P21","titleFont":"Liberation Serif","titleFontSize":17,"titleFontWeight":"normal","titleColor":"black","titlePadding":9,"labelFont":"Liberation Serif","labelFontSize":15,"labelColor":"black","labelPadding":5,"domainColor":"black","tickColor":"black","labelOverlap":false}}},
"layer":[
{"data":{"name":"gmin"},"transform":[{"flatten":["ang"]},{"calculate":"datum.r*cos(datum.ang*PI/180)","as":"x"},{"calculate":"datum.r*sin(datum.ang*PI/180)","as":"y"}],"mark":{"type":"line","stroke":"#cfcfcf","strokeWidth":0.8,"strokeDash":[2,2]},"encoding":{"detail":{"field":"r","type":"nominal"},"order":{"field":"ang","type":"quantitative"}}},
{"data":{"name":"gmaj"},"transform":[{"flatten":["ang"]},{"calculate":"datum.r*cos(datum.ang*PI/180)","as":"x"},{"calculate":"datum.r*sin(datum.ang*PI/180)","as":"y"}],"mark":{"type":"line","stroke":"#a9a9a9","strokeWidth":0.8},"encoding":{"detail":{"field":"r","type":"nominal"},"order":{"field":"ang","type":"quantitative"}}},
{"data":{"name":"amin"},"transform":[{"calculate":"0","as":"x"},{"calculate":"0","as":"y"},{"calculate":"0.06*cos(datum.a*PI/180)","as":"x2"},{"calculate":"0.06*sin(datum.a*PI/180)","as":"y2"}],"mark":{"type":"rule","stroke":"#cfcfcf","strokeWidth":0.8,"strokeDash":[2,2]},"encoding":{"x2":{"field":"x2"},"y2":{"field":"y2"}}},
{"data":{"name":"amaj"},"transform":[{"calculate":"0","as":"x"},{"calculate":"0","as":"y"},{"calculate":"0.06*cos(datum.a*PI/180)","as":"x2"},{"calculate":"0.06*sin(datum.a*PI/180)","as":"y2"}],"mark":{"type":"rule","stroke":"#a9a9a9","strokeWidth":0.8},"encoding":{"x2":{"field":"x2"},"y2":{"field":"y2"}}},
{"data":{"name":"gout"},"transform":[{"flatten":["ang"]},{"calculate":"datum.r*cos(datum.ang*PI/180)","as":"x"},{"calculate":"datum.r*sin(datum.ang*PI/180)","as":"y"}],"mark":{"type":"line","stroke":"black","strokeWidth":1.5},"encoding":{"detail":{"field":"r","type":"nominal"},"order":{"field":"ang","type":"quantitative"}}},
{"data":{"name":"alab"},"transform":[{"calculate":"0.06*cos(datum.a*PI/180)","as":"x"},{"calculate":"0.06*sin(datum.a*PI/180)","as":"y"},{"calculate":"0.0578*cos(datum.a*PI/180)","as":"x2"},{"calculate":"0.0578*sin(datum.a*PI/180)","as":"y2"}],"mark":{"type":"rule","stroke":"black","strokeWidth":1},"encoding":{"x2":{"field":"x2"},"y2":{"field":"y2"}}},
{"data":{"name":"amin"},"transform":[{"calculate":"0.06*cos(datum.a*PI/180)","as":"x"},{"calculate":"0.06*sin(datum.a*PI/180)","as":"y"},{"calculate":"0.0587*cos(datum.a*PI/180)","as":"x2"},{"calculate":"0.0587*sin(datum.a*PI/180)","as":"y2"}],"mark":{"type":"rule","stroke":"black","strokeWidth":1},"encoding":{"x2":{"field":"x2"},"y2":{"field":"y2"}}},
{"data":{"name":"alab"},"transform":[{"calculate":"0.0655+0.0008*length(toString(datum.a))*abs(cos(datum.a*PI/180))+0.0012*abs(sin(datum.a*PI/180))","as":"lr"},{"calculate":"datum.lr*cos(datum.a*PI/180)","as":"x"},{"calculate":"datum.lr*sin(datum.a*PI/180)","as":"y"}],"mark":{"type":"text","font":"Liberation Serif","fontSize":15,"align":"center","baseline":"middle","color":"black"},"encoding":{"text":{"field":"a","type":"nominal"}}},
{"data":{"name":"lines"},"transform":[{"filter":"datum.p=='10'"},{"calculate":"datum.v*cos(datum.a*PI/180)","as":"x"},{"calculate":"datum.v*sin(datum.a*PI/180)","as":"y"}],"mark":{"type":"line","strokeWidth":1.8},
"encoding":{
"color":{"field":"l","type":"nominal","scale":{"domain":["40%","60%","80%","100%"],"range":["#3cb371","#ff5a36","#f5d76e","#34506f"]},"legend":{"orient":"none","legendX":506,"legendY":-36,"title":null,"padding":0,"clipHeight":20,"symbolType":"M-1.8,0H1.8","symbolSize":400,"symbolStrokeWidth":2,"labelFont":"Liberation Serif","labelFontSize":16,"labelColor":"black","labelOffset":8,"rowPadding":0}},
"strokeDash":{"field":"t","type":"nominal","scale":{"domain":["C","M"],"range":[[1,0],[6,4]]},"legend":{"orient":"none","legendX":173,"legendY":157,"direction":"horizontal","title":null,"padding":0,"symbolType":"stroke","symbolSize":1369,"symbolStrokeWidth":1.5,"symbolStrokeColor":"black","labelExpr":"datum.value=='C' ? 'Cyclic loading and unloading' : 'Monotonic loading'","labelFont":"Liberation Serif","labelFontSize":15,"labelColor":"black","labelOffset":3,"labelLimit":400,"columnPadding":2}},
"order":{"field":"a","type":"quantitative"}}}
]}
],"spacing":86,"bounds":"flush",
"resolve":{"scale":{"x":"independent","y":"independent","color":"independent","strokeDash":"independent"},"legend":{"color":"independent","strokeDash":"independent"}}},
{"width":326,"height":163,
"title":{"text":"σ₃=5MPa","anchor":"start","frame":"group","dx":-39,"offset":-23,"font":"Liberation Serif","fontSize":17,"fontWeight":"normal","color":"black"},
"encoding":{
"x":{"field":"x","type":"quantitative","scale":{"domain":[-0.06,0.06],"nice":false,"zero":false},"axis":{"orient":"top","offset":-163,"values":[-0.06,-0.055,-0.05,-0.045,-0.04,-0.035,-0.03,-0.025,-0.02,-0.015,-0.01,-0.005,0,0.005,0.01,0.015,0.02,0.025,0.03,0.035,0.04,0.045,0.05,0.055,0.06],"labels":false,"title":null,"grid":false,"domainColor":"black","domainWidth":1.5,"tickColor":"black","tickSize":4,"zindex":1}},
"y":{"field":"y","type":"quantitative","scale":{"domain":[0,0.06],"nice":false},"axis":{"orient":"left","offset":32,"values":[0,0.005,0.01,0.015,0.02,0.025,0.03,0.035,0.04,0.045,0.05,0.055,0.06],"labelExpr":"round(datum.value*1000)%10==0 ? format(datum.value,'.2f') : ''","tickSize":6,"grid":false,"title":"P21","titleFont":"Liberation Serif","titleFontSize":17,"titleFontWeight":"normal","titleColor":"black","titlePadding":9,"labelFont":"Liberation Serif","labelFontSize":15,"labelColor":"black","labelPadding":5,"domainColor":"black","tickColor":"black","labelOverlap":false}}},
"layer":[
{"data":{"name":"gmin"},"transform":[{"flatten":["ang"]},{"calculate":"datum.r*cos(datum.ang*PI/180)","as":"x"},{"calculate":"datum.r*sin(datum.ang*PI/180)","as":"y"}],"mark":{"type":"line","stroke":"#cfcfcf","strokeWidth":0.8,"strokeDash":[2,2]},"encoding":{"detail":{"field":"r","type":"nominal"},"order":{"field":"ang","type":"quantitative"}}},
{"data":{"name":"gmaj"},"transform":[{"flatten":["ang"]},{"calculate":"datum.r*cos(datum.ang*PI/180)","as":"x"},{"calculate":"datum.r*sin(datum.ang*PI/180)","as":"y"}],"mark":{"type":"line","stroke":"#a9a9a9","strokeWidth":0.8},"encoding":{"detail":{"field":"r","type":"nominal"},"order":{"field":"ang","type":"quantitative"}}},
{"data":{"name":"amin"},"transform":[{"calculate":"0","as":"x"},{"calculate":"0","as":"y"},{"calculate":"0.06*cos(datum.a*PI/180)","as":"x2"},{"calculate":"0.06*sin(datum.a*PI/180)","as":"y2"}],"mark":{"type":"rule","stroke":"#cfcfcf","strokeWidth":0.8,"strokeDash":[2,2]},"encoding":{"x2":{"field":"x2"},"y2":{"field":"y2"}}},
{"data":{"name":"amaj"},"transform":[{"calculate":"0","as":"x"},{"calculate":"0","as":"y"},{"calculate":"0.06*cos(datum.a*PI/180)","as":"x2"},{"calculate":"0.06*sin(datum.a*PI/180)","as":"y2"}],"mark":{"type":"rule","stroke":"#a9a9a9","strokeWidth":0.8},"encoding":{"x2":{"field":"x2"},"y2":{"field":"y2"}}},
{"data":{"name":"gout"},"transform":[{"flatten":["ang"]},{"calculate":"datum.r*cos(datum.ang*PI/180)","as":"x"},{"calculate":"datum.r*sin(datum.ang*PI/180)","as":"y"}],"mark":{"type":"line","stroke":"black","strokeWidth":1.5},"encoding":{"detail":{"field":"r","type":"nominal"},"order":{"field":"ang","type":"quantitative"}}},
{"data":{"name":"alab"},"transform":[{"calculate":"0.06*cos(datum.a*PI/180)","as":"x"},{"calculate":"0.06*sin(datum.a*PI/180)","as":"y"},{"calculate":"0.0578*cos(datum.a*PI/180)","as":"x2"},{"calculate":"0.0578*sin(datum.a*PI/180)","as":"y2"}],"mark":{"type":"rule","stroke":"black","strokeWidth":1},"encoding":{"x2":{"field":"x2"},"y2":{"field":"y2"}}},
{"data":{"name":"amin"},"transform":[{"calculate":"0.06*cos(datum.a*PI/180)","as":"x"},{"calculate":"0.06*sin(datum.a*PI/180)","as":"y"},{"calculate":"0.0587*cos(datum.a*PI/180)","as":"x2"},{"calculate":"0.0587*sin(datum.a*PI/180)","as":"y2"}],"mark":{"type":"rule","stroke":"black","strokeWidth":1},"encoding":{"x2":{"field":"x2"},"y2":{"field":"y2"}}},
{"data":{"name":"alab"},"transform":[{"calculate":"0.0655+0.0008*length(toString(datum.a))*abs(cos(datum.a*PI/180))+0.0012*abs(sin(datum.a*PI/180))","as":"lr"},{"calculate":"datum.lr*cos(datum.a*PI/180)","as":"x"},{"calculate":"datum.lr*sin(datum.a*PI/180)","as":"y"}],"mark":{"type":"text","font":"Liberation Serif","fontSize":15,"align":"center","baseline":"middle","color":"black"},"encoding":{"text":{"field":"a","type":"nominal"}}},
{"data":{"name":"lines"},"transform":[{"filter":"datum.p=='5'"},{"calculate":"datum.v*cos(datum.a*PI/180)","as":"x"},{"calculate":"datum.v*sin(datum.a*PI/180)","as":"y"}],"mark":{"type":"line","strokeWidth":1.8},
"encoding":{
"color":{"field":"l","type":"nominal","scale":{"domain":["40%","60%","80%","100%"],"range":["#3cb371","#ff5a36","#f5d76e","#34506f"]},"legend":{"orient":"none","legendX":296,"legendY":-34,"title":null,"padding":0,"clipHeight":20,"symbolType":"M-1.8,0H1.8","symbolSize":400,"symbolStrokeWidth":2,"labelFont":"Liberation Serif","labelFontSize":16,"labelColor":"black","labelOffset":16,"rowPadding":0}},
"strokeDash":{"field":"t","type":"nominal","scale":{"domain":["C","M"],"range":[[1,0],[6,4]]},"legend":{"orient":"none","legendX":-37,"legendY":160,"direction":"horizontal","title":null,"padding":0,"symbolType":"stroke","symbolSize":1369,"symbolStrokeWidth":1.5,"symbolStrokeColor":"black","labelExpr":"datum.value=='C' ? 'Cyclic loading and unloading' : 'Monotonic loading'","labelFont":"Liberation Serif","labelFontSize":15,"labelColor":"black","labelOffset":3,"labelLimit":400,"columnPadding":2}},
"order":{"field":"a","type":"quantitative"}}}
]}
]
}
